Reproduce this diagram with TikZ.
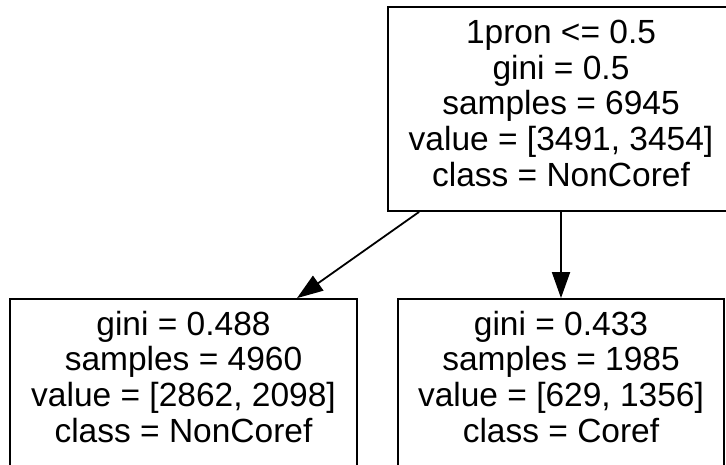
\documentclass[tikz,border=0pt]{standalone}
\usepackage{fontspec}
\setmainfont{Liberation Sans}
\usetikzlibrary{arrows.meta}
\begin{document}
\begin{tikzpicture}[x=1pt,y=-1pt,
  treebox/.style={draw, line width=1.8pt, rectangle, inner sep=0pt},
  treetext/.style={align=center, inner sep=0pt,
    font=\fontsize{33.5}{35.7}\selectfont},
  edge/.style={line width=1.8pt, -{Triangle[length=26pt,width=18pt]}}]
\useasboundingbox (0,0) rectangle (726,464);
% boxes of the tree
\node[treebox, minimum width=346pt, minimum height=204pt] (root) at (561,109) {};
\node[treebox, minimum width=347pt, minimum height=167pt] (left) at (183.5,382.5) {};
\node[treebox, minimum width=326pt, minimum height=167pt] (right) at (561,382.5) {};
% texts of the boxes
\node[treetext] (roottext) at (561,103.4)
  {1pron <= 0.5\\gini = 0.5\\samples = 6945\\value = [3491, 3454]\\class = NonCoref};
\node[treetext] (lefttext) at (183.5,376.7)
  {gini = 0.488\\samples = 4960\\value = [2862, 2098]\\class = NonCoref};
\node[treetext] (righttext) at (561,376.7)
  {gini = 0.433\\samples = 1985\\value = [629, 1356]\\class = Coref};
% edges
\draw[edge] ([xshift=32pt]root.south west) -- ([xshift=113.5pt]left.north);
\draw[edge] (root.south) -- (right.north);
\end{tikzpicture}
\end{document}
